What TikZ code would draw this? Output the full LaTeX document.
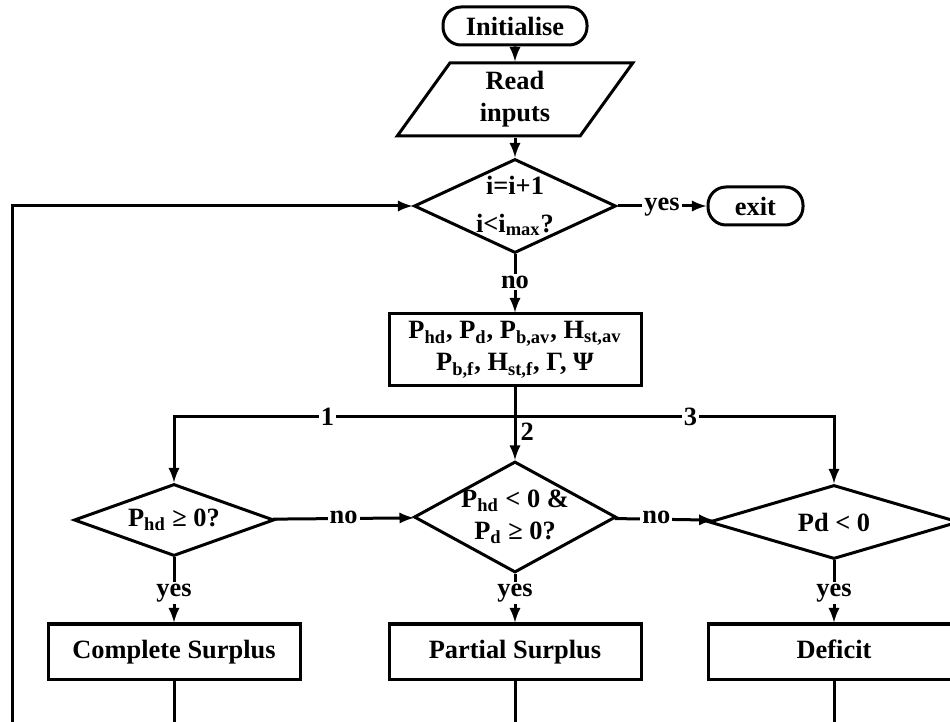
\documentclass[tikz,border=0pt]{standalone}
\usepackage{fontspec}
\setmainfont{Liberation Serif}
\usetikzlibrary{shapes.geometric}

\tikzset{
  term/.style={draw, rectangle, rounded corners=9pt, minimum height=19pt, inner sep=0pt},
  io/.style={draw, trapezium, trapezium left angle=63, trapezium right angle=117,
    trapezium stretches=true, inner sep=0pt, align=center},
  dec/.style={draw, diamond, inner sep=0pt},
  proc/.style={draw, rectangle, inner sep=0pt, align=center},
  case/.style={proc, minimum width=126pt, minimum height=27.5pt, text depth=.25em},
  tag/.style={fill=white, inner sep=1pt},
  ans/.style={tag, anchor=mid},
}

\begin{document}
\begin{tikzpicture}[x=0.5pt, y=-0.5pt, line width=1.5pt,
    font=\bfseries\fontsize{13.2}{16}\selectfont]
  \useasboundingbox (0,0) rectangle (950,722);
  \clip (0,0) rectangle (950,722);
  % top of the chart
  \node[term, minimum width=72pt] at (515,26) (init) {Initialise};
  \node[io, minimum width=118.5pt, minimum height=36.5pt] at (515,99.5) (read) {Read\\inputs};
  \node[dec, minimum width=101pt, minimum height=47pt,
    label={[align=center]center:{i=i+1\\[3pt]i<i\textsubscript{max}?}}] at (515,206) (loop) {};
  \node[term, minimum width=47.5pt] at (755.5,206) (exit) {exit};
  \node[proc, minimum width=126pt, minimum height=36pt] at (515,350) (calc)
    {P\textsubscript{hd}, P\textsubscript{d}, P\textsubscript{b,av}, H\textsubscript{st,av}\\
     P\textsubscript{b,f}, H\textsubscript{st,f}, Γ, Ψ};
  \coordinate (split) at (515,417);
  % the three cases
  \node[dec, minimum width=100pt, minimum height=36pt,
    label=center:{P\textsubscript{hd} ≥ 0?}] at (174,520) (d1) {};
  \node[dec, minimum width=101pt, minimum height=55.5pt,
    label={[align=center]center:{P\textsubscript{hd} < 0 \&\\P\textsubscript{d} ≥ 0?}}] at (515,517) (d2) {};
  \node[dec, minimum width=125pt, minimum height=37pt,
    label=center:{Pd < 0}] at (834,522) (d3) {};
  \node[case] at (174,651.5) (b1) {Complete Surplus};
  \node[case] at (515,651.5) (b2) {Partial Surplus};
  \node[case] at (834,651.5) (b3) {Deficit};
  \coordinate (end1) at (174,760);
  \coordinate (end2) at (515,760);
  \coordinate (end3) at (834,760);
  \coordinate (back) at (12,760);
  % connectors
  \draw[-latex] (init) -- (read);
  \draw[-latex] (read) -- (loop);
  \draw[-latex] (loop) -- node[ans] {yes} (exit);
  \draw[-latex] (loop) -- node[ans] {no} (calc);
  \draw (calc) -- (split);
  \draw[-latex] (split) -| node[tag, pos=0.275] {1} (d1.north);
  \draw[-latex] (split) -- node[right, pos=0.35, inner sep=2pt] {2} (d2);
  \draw[-latex] (split) -| node[tag, pos=0.275] {3} (d3.north);
  \draw[-latex] (d1) -- node[ans] {no} (d2);
  \draw[-latex] (d2) -- node[ans, pos=0.42] {no} (d3);
  \draw[-latex] (d1) -- node[ans, pos=0.53] {yes} (b1);
  \draw[-latex] (d2) -- node[ans, pos=0.37] {yes} (b2);
  \draw[-latex] (d3) -- node[ans, pos=0.5] {yes} (b3);
  \draw (b1) -- (end1);
  \draw (b2) -- (end2);
  \draw (b3) -- (end3);
  \draw[-latex] (back) |- (loop.west);
\end{tikzpicture}
\end{document}
